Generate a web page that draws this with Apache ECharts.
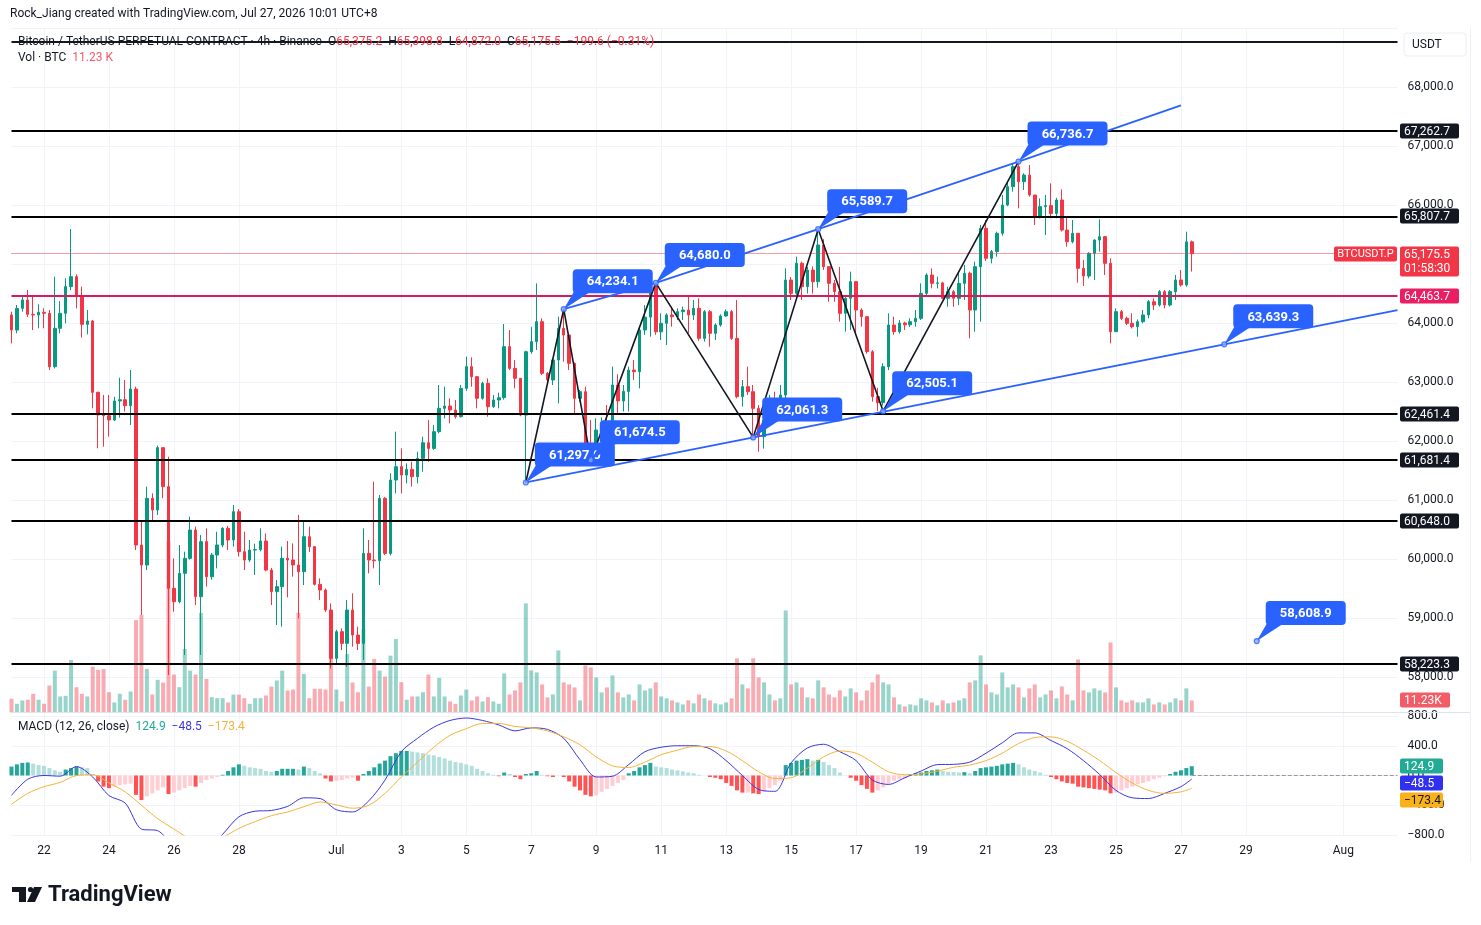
<!DOCTYPE html>
<html>
<head>
<meta charset="utf-8">
<title>BTCUSDT.P 4h</title>
<script src="https://cdn.jsdelivr.net/npm/echarts@6/dist/echarts.min.js"></script>
<style>
  html, body { margin: 0; padding: 0; background: #fff; }
  #chart { width: 1481px; height: 925px; }
</style>
</head>
<body>
<div id="chart"></div>
<script>
// ---- values (4h candles from Jun 21 00:00, UTC+8) ----
const firstOpen = 64136;
const closes = [
  63881, 64248, 64390, 64147, 64136, 64181, 64164, 63260, 63910, 64164,
  64616, 64785, 64446, 63977, 64034, 62825, 62441, 62429, 62356, 62678,
  62700, 62599, 62881, 60237, 59898, 61028, 60830, 61887, 61226, 59503,
  59277, 59757, 60011, 60491, 59361, 60294, 59700, 60068, 60237, 60520,
  60322, 60802, 60124, 59983, 60152, 60160, 60305, 59813, 59446, 59531,
  60011, 59983, 59898, 59785, 60378, 60209, 59570, 59474, 59135, 58316,
  58768, 58570, 59135, 58711, 58570, 60095, 59983, 59971, 61028, 60095,
  61339, 61565, 61423, 61519, 61395, 61706, 61971, 61875, 62158, 62553,
  62593, 62525, 62412, 62892, 63260, 63090, 62723, 62977, 62582, 62695,
  62734, 63599, 63231, 63062, 62440, 63514, 63683, 64022, 63147, 63034,
  63373, 63909, 63796, 63316, 62723, 62836, 61960, 61700, 62186, 62243,
  61870, 62949, 62680, 62840, 63203, 63175, 63881, 64100, 64650, 63850,
  63994, 64136, 64108, 64192, 64220, 64136, 64249, 63740, 64192, 63825,
  63966, 64119, 64192, 63740, 62752, 62921, 62836, 62553, 62073, 62356,
  62695, 62610, 62780, 64729, 64503, 65012, 64616, 64898, 64700, 65322,
  64955, 64673, 64531, 64164, 64418, 64701, 64220, 64107, 63514, 62752,
  62650, 63260, 63966, 63853, 64000, 63970, 64022, 64079, 64503, 64813,
  64672, 64680, 64418, 64531, 64418, 64672, 64842, 64220, 64955, 65604,
  65096, 65209, 65520, 66000, 66311, 66650, 66395, 66508, 66169, 65802,
  65972, 65990, 65858, 66085, 65576, 65378, 65520, 64927, 64796, 65181,
  65406, 65463, 65011, 63853, 64192, 64079, 63994, 63938, 64022, 64136,
  64361, 64305, 64531, 64305, 64531, 64729, 64644, 65375.2, 65175.5
];
const highs = [
  64192, 64305, 64446, 64559, 64446, 64316, 64250, 64220, 64785, 64373,
  64757, 65593, 64825, 64616, 64220, 64051, 62836, 62780, 62780, 62751,
  63073, 63034, 63203, 62921, 60633, 61226, 61113, 61921, 61887, 61734,
  60011, 60237, 60124, 60717, 60548, 60406, 60520, 60100, 60463, 60540,
  60560, 60915, 60847, 60463, 60322, 60260, 60520, 60435, 59850, 59644,
  60209, 60305, 60265, 60746, 60661, 60548, 60220, 59672, 59500, 59248,
  58800, 58824, 59305, 59418, 58853, 60519, 60322, 61310, 61084, 61050,
  61452, 62158, 61875, 61621, 61649, 61819, 62073, 62356, 62271, 62949,
  62921, 62723, 62695, 62949, 63429, 63418, 63100, 63005, 63062, 62779,
  62819, 63983, 63881, 63373, 63062, 63530, 63938, 64672, 64079, 63170,
  63401, 64107, 64234.1, 63810, 63330, 62864, 62921, 62356, 62384, 62400,
  62610, 63260, 63130, 62950, 63260, 63373, 63938, 64305, 64660, 64680,
  64164, 64164, 64277, 64249, 64277, 64475, 64390, 64418, 64220, 64220,
  63994, 64147, 64231, 64220, 64390, 63034, 63260, 62949, 62610, 62582,
  62780, 62836, 62950, 64927, 64780, 65125, 65040, 64950, 64960, 65589.7,
  65420, 64955, 64730, 64950, 64446, 64870, 64701, 64250, 64107, 63542,
  62900, 63316, 64164, 64107, 64050, 64022, 64080, 64220, 64672, 64842,
  64926, 64785, 64700, 64616, 64560, 64842, 64983, 64870, 65040, 65661,
  65746, 65237, 65548, 66170, 66395, 66706, 66736.7, 66537, 66678, 66169,
  66113, 66169, 66367, 66120, 66265, 65802, 65746, 65520, 65068, 65200,
  65418, 65757, 65474, 65096, 64248, 64220, 64107, 64164, 64060, 64220,
  64390, 64418, 64559, 64559, 64559, 64813, 64898, 65548, 65398.8
];
const lows = [
  63655, 63825, 64192, 64100, 63881, 63910, 63910, 63203, 63230, 63825,
  63994, 64559, 64248, 63751, 63808, 62553, 61876, 61904, 62073, 62340,
  62395, 62500, 62271, 60152, 59051, 59813, 60633, 60746, 61028, 58033,
  59107, 59250, 58373, 59990, 59220, 58373, 59531, 59650, 59842, 60200,
  60152, 60209, 60039, 59813, 59950, 59729, 60130, 59790, 59220, 58881,
  58853, 59350, 59700, 58994, 59559, 60120, 59550, 59305, 59100, 58147,
  58203, 58457, 58175, 58514, 58457, 58288, 59757, 59841, 59559, 60067,
  60060, 61113, 61113, 61282, 61226, 61282, 61480, 61649, 61850, 62130,
  62384, 62299, 62380, 62400, 62850, 62921, 62553, 62700, 62412, 62560,
  62553, 62700, 63200, 62892, 62420, 61297, 63480, 63542, 63118, 63005,
  62949, 62638, 63344, 63203, 62469, 62666, 61790, 61674.5, 61690, 61900,
  61700, 61850, 62440, 62500, 62500, 63034, 62893, 63797, 63769, 63800,
  63712, 63627, 63938, 64051, 64051, 63825, 64051, 63700, 63684, 63599,
  63712, 63938, 64107, 63712, 62723, 62582, 62780, 62061.3, 61819, 61870,
  62300, 62550, 62550, 62700, 64390, 64475, 64390, 64500, 64500, 64600,
  64900, 64361, 64361, 64023, 63854, 63881, 63797, 63938, 63480, 62667,
  62505.1, 62600, 63200, 63800, 63820, 63882, 63930, 63938, 64050, 64475,
  64587, 64587, 64400, 64277, 64277, 64305, 64390, 63740, 63853, 64022,
  65050, 65011, 65124, 65480, 65980, 66226, 65943, 66254, 66141, 65661,
  65774, 65492, 65774, 65774, 65550, 65293, 65350, 64683, 64627, 64757,
  64729, 65209, 64813, 63655, 63850, 64050, 63966, 63909, 63768, 63994,
  64079, 64220, 64277, 64248, 64280, 64390, 64616, 64616, 64872
];
// volume in thousands of BTC
const volumes = [
  12.8, 8.1, 11.2, 11.9, 17.5, 11.9, 8.1, 25.3, 39.3, 15.0,
  15.6, 49.3, 23.7, 17.5, 15.0, 43.1, 40.0, 40.9, 19.0, 9.4,
  17.5, 11.9, 19.7, 86.8, 91.7, 40.9, 16.8, 30.6, 28.1, 161.0,
  35.6, 23.7, 59.6, 39.3, 35.6, 93.6, 31.5, 14.3, 13.4, 13.4,
  9.4, 16.8, 16.8, 13.4, 8.1, 13.4, 13.4, 15.9, 24.3, 30.0,
  39.3, 20.6, 21.5, 93.6, 36.2, 13.4, 22.2, 22.2, 21.5, 89.2,
  21.5, 10.3, 54.9, 28.1, 19.0, 78.3, 24.3, 50.3, 39.3, 33.7,
  53.4, 69.0, 28.4, 11.9, 15.0, 15.0, 19.0, 35.6, 15.0, 32.5,
  15.0, 10.3, 8.1, 15.9, 21.5, 11.2, 15.0, 10.3, 14.3, 10.3,
  8.1, 36.7, 16.9, 20.7, 28.2, 102.5, 39.5, 37.6, 26.3, 14.1,
  16.9, 58.3, 28.2, 26.3, 23.5, 11.3, 44.2, 42.3, 32.9, 18.8,
  23.5, 34.8, 18.8, 14.1, 16.9, 11.3, 26.3, 20.7, 22.6, 28.2,
  15.0, 13.2, 11.3, 9.4, 7.5, 11.3, 8.5, 16.9, 13.2, 11.3,
  8.5, 7.5, 9.4, 13.2, 50.8, 26.3, 22.6, 50.8, 32.9, 28.2,
  16.9, 11.3, 13.2, 95.9, 26.3, 28.2, 23.5, 14.1, 13.2, 30.1,
  23.5, 16.9, 14.1, 20.7, 15.0, 22.6, 18.8, 11.3, 20.7, 28.2,
  35.7, 28.2, 26.3, 14.1, 7.5, 5.6, 7.5, 6.6, 13.2, 11.3,
  9.4, 6.6, 11.3, 8.5, 9.4, 11.3, 13.2, 28.2, 30.1, 53.6,
  26.3, 18.8, 16.9, 37.6, 23.5, 26.3, 23.5, 14.1, 22.6, 26.3,
  14.1, 16.9, 20.7, 13.2, 24.4, 16.9, 11.3, 49.8, 20.7, 18.8,
  22.6, 20.7, 18.8, 65.8, 23.5, 11.3, 9.4, 11.3, 9.4, 9.4,
  13.2, 7.5, 9.4, 7.5, 9.4, 13.2, 11.3, 22.6, 11.23
];
// MACD (12, 26, close): line and signal read every third bar, histogram every bar
const macdLine = [
  [0, -267], [3, -50], [6, 0], [9, -9], [12, 120], [15, -20], [18, -270], [21, -370],
  [24, -720], [27, -742], [30, -950], [33, -1050], [36, -1000], [39, -790], [42, -555],
  [45, -480], [48, -470], [51, -415], [54, -300], [57, -310], [60, -460], [63, -490],
  [66, -340], [69, -60], [72, 320], [75, 500], [78, 650], [81, 740], [84, 773], [87, 740],
  [90, 680], [93, 600], [96, 640], [99, 620], [102, 500], [105, 213], [108, -20], [111, -10],
  [114, 147], [117, 320], [120, 380], [123, 400], [126, 400], [129, 360], [132, 200], [135, 0],
  [138, -187], [141, -213], [144, 170], [147, 370], [150, 420], [153, 320], [156, 200],
  [159, -60], [162, -120], [165, -30], [168, 60], [171, 147], [174, 150], [177, 180],
  [180, 300], [183, 440], [186, 573], [189, 573], [192, 470], [195, 360], [198, 200],
  [201, 13], [204, -200], [207, -300], [210, -310], [213, -240], [216, -150], [218, -48.5]
];
const signalLine = [
  [0, -387], [3, -240], [6, -150], [9, -93], [12, 0], [15, 10], [18, -100], [21, -220],
  [24, -400], [27, -580], [30, -720], [33, -850], [36, -900], [39, -830], [42, -711],
  [45, -620], [48, -540], [51, -490], [54, -420], [57, -356], [60, -395], [63, -440],
  [66, -400], [69, -240], [72, -20], [75, 180], [78, 380], [81, 540], [84, 630], [87, 700],
  [90, 700], [93, 660], [96, 640], [99, 600], [102, 520], [105, 413], [108, 250], [111, 130],
  [114, 107], [117, 180], [120, 280], [123, 340], [126, 390], [129, 390], [132, 330], [135, 200],
  [138, 50], [141, -40], [144, -30], [147, 100], [150, 250], [153, 330], [156, 300],
  [159, 180], [162, 50], [165, 10], [168, 20], [171, 60], [174, 110], [177, 140],
  [180, 200], [183, 300], [186, 430], [189, 510], [192, 520], [195, 460], [198, 340],
  [201, 200], [204, 40], [207, -100], [210, -200], [213, -240], [216, -220], [218, -173.4]
];
const histogram = [
  120, 150, 170, 175, 160, 140, 130, 100, 70, 50,
  80, 100, 120, 110, 100, 20, -80, -150, -170, -150,
  -130, -120, -110, -260, -330, -280, -240, -200, -160, -250,
  -230, -200, -170, -140, -150, -100, -60, -40, -20, 10,
  60, 110, 150, 130, 110, 100, 90, 60, 50, 60,
  90, 90, 90, 80, 120, 100, 60, 30, -40, -80,
  -70, -60, -40, -30, -70, 20, 60, 110, 160, 200,
  260, 300, 330, 330, 320, 310, 300, 280, 270, 250,
  230, 200, 180, 170, 150, 130, 90, 60, 30, 10,
  -10, 40, 20, -20, -50, 20, 30, 60, 10, -10,
  -20, 0, -20, -80, -150, -200, -260, -280, -270, -220,
  -180, -140, -100, -60, 30, 60, 110, 140, 170, 120,
  110, 100, 80, 70, 55, 40, 30, 10, 0, -20,
  -30, -50, -100, -140, -200, -230, -230, -240, -250, -220,
  -170, -130, -70, 140, 170, 200, 210, 220, 200, 210,
  180, 140, 100, 40, 0, -30, -70, -130, -180, -230,
  -200, -160, -110, -70, -50, -40, 20, 30, 40, 60,
  70, 80, 60, 50, 45, 40, 45, 30, 60, 100,
  110, 120, 130, 150, 160, 170, 150, 110, 80, 60,
  40, 10, -20, -50, -80, -100, -110, -150, -160, -170,
  -180, -190, -200, -240, -230, -200, -170, -150, -120, -100,
  -80, -50, -30, -10, 20, 50, 70, 100, 124.9
];

// drawings: [bar index, price]
const levels = [67262.7, 65807.7, 62461.4, 61681.4, 60648.0, 58223.3];
const topLevel = 68763;
const pinkLevel = 64463.7;
const lastPrice = 65175.5;
const zigzag = [[95, 61297.0], [102, 64234.1], [107, 61674.5], [119, 64680.0], [137, 62061.3],
  [149, 65589.7], [161, 62505.1], [186, 66736.7]];
const upperLine = [[102, 64234.1], [119, 64680.0], [149, 65589.7], [186, 66736.7], [216, 67690]];
const lowerLine = [[95, 61297.0], [224, 63639.3], [256, 64220]];
const callouts = [[95, 61297.0], [102, 64234.1], [107, 61674.5], [119, 64680.0], [137, 62061.3],
  [149, 65589.7], [161, 62505.1], [186, 66736.7], [224, 63639.3], [230, 58608.9]];

// time axis ticks
const tickIdx = [6, 18, 30, 42, 60, 72, 84, 96, 108, 120, 132, 144, 156, 168, 180, 192, 204, 216, 228, 246];
const tickText = ['22', '24', '26', '28', 'Jul', '3', '5', '7', '9', '11', '13', '15', '17', '19', '21', '23', '25', '27', '29', 'Aug'];

// ---- build ----
const slotCount = 257;
const t0 = Date.UTC(2026, 5, 21, 0, 0);
const categories = [];
for (let i = 0; i < slotCount; i++) {
  categories.push(new Date(t0 + i * 4 * 3600 * 1000).toISOString().slice(0, 16).replace('T', ' '));
}
const tickMap = {};
tickIdx.forEach((k, j) => { tickMap[k] = tickText[j]; });
const isTick = (index) => tickMap[index] !== undefined;

const opens = [firstOpen].concat(closes.slice(0, -1));
const candleData = closes.map((c, i) => {
  const o = opens[i];
  return [o, c, Math.min(lows[i], o, c), Math.max(highs[i], o, c)];
});

const UP = '#089981', DOWN = '#f23645';
const FONT = '"Trebuchet MS", Roboto, "Noto Sans", sans-serif';
const TEXT = '#131722';
const GRID = '#f0f3fa';
const fmt = v => v.toLocaleString('en-US', { minimumFractionDigits: 1, maximumFractionDigits: 1 }).replace('-', '\u2212');

const histColors = histogram.map((v, i) => {
  const prev = i > 0 ? histogram[i - 1] : v;
  if (v >= 0) return v >= prev ? '#26a69a' : '#b2dfdb';
  return v < prev ? '#ff5252' : '#ffcdd2';
});

const L = 11.5, W = 1386;

function renderCallout(params, api) {
  const p = api.coord([api.value(0), api.value(1)]);
  const bw = 80, bh = 24;
  const bx = p[0] + 9, by = p[1] - 40;
  return {
    type: 'group',
    children: [
      { type: 'polygon', shape: { points: [[p[0], p[1]], [bx + 2, by + bh - 3], [bx + 17, by + bh - 1]] },
        style: { fill: '#2962ff' } },
      { type: 'rect', shape: { x: bx, y: by, width: bw, height: bh, r: 4 }, style: { fill: '#2962ff' } },
      { type: 'text', style: { x: bx + bw / 2, y: by + bh / 2 + 1, text: fmt(api.value(1)), fill: '#fff',
        font: 'bold 13px ' + FONT, align: 'center', verticalAlign: 'middle' } }
    ]
  };
}

const splitColors = [];
for (let k = 0; k <= 12; k++) splitColors.push(k === 0 ? 'rgba(0,0,0,0)' : GRID);

const chart = echarts.init(document.getElementById('chart'));
const option = {
  animation: false,
  backgroundColor: '#ffffff',
  textStyle: { fontFamily: FONT },
  grid: [
    { left: L, width: W, top: 28, height: 708 },
    { left: L, width: W, top: 521, height: 191.4 },
    { left: L, width: W, top: 716, height: 119 }
  ],
  xAxis: [
    { type: 'category', gridIndex: 0, data: categories, boundaryGap: false,
      axisLine: { show: false }, axisTick: { show: false }, axisLabel: { show: false },
      splitLine: { show: true, interval: isTick, lineStyle: { color: GRID } } },
    { type: 'category', gridIndex: 1, data: categories, boundaryGap: false, show: false },
    { type: 'category', gridIndex: 2, data: categories, boundaryGap: false,
      axisLine: { show: false }, axisTick: { show: false },
      axisLabel: { interval: isTick, formatter: (v, i) => tickMap[i] || '', color: TEXT,
        fontSize: 12, margin: 10, fontFamily: FONT },
      splitLine: { show: true, interval: isTick, lineStyle: { color: GRID } } }
  ],
  yAxis: [
    { type: 'value', gridIndex: 0, position: 'right', min: 57000, max: 69000, interval: 1000,
      axisLine: { show: false }, axisTick: { show: false },
      axisLabel: { color: TEXT, fontSize: 12, margin: 10, fontFamily: FONT,
        formatter: v => (v === 57000 || v === 69000) ? '' : fmt(v) },
      splitLine: { show: true, lineStyle: { color: splitColors } } },
    { type: 'value', gridIndex: 1, min: 0, max: 180, show: false },
    { type: 'value', gridIndex: 2, position: 'right', min: -800, max: 800, interval: 400,
      axisLine: { show: false }, axisTick: { show: false },
      axisLabel: { color: TEXT, fontSize: 12, margin: 10, fontFamily: FONT, formatter: v => fmt(v) },
      splitLine: { show: true, lineStyle: { color: GRID } } }
  ],
  series: [
    { name: 'Volume', type: 'bar', xAxisIndex: 1, yAxisIndex: 1, barWidth: 4, silent: true, z: 1,
      clip: false,
      data: volumes.map((v, i) => ({ value: v,
        itemStyle: { color: closes[i] >= opens[i] ? 'rgba(8,153,129,0.42)' : 'rgba(242,54,69,0.42)' } })) },
    { name: 'Levels', type: 'line', xAxisIndex: 0, yAxisIndex: 0, data: [[0, lastPrice]],
      showSymbol: false, lineStyle: { opacity: 0 }, silent: true, z: 2,
      markLine: {
        silent: true, symbol: ['none', 'none'], label: { show: false }, animation: false,
        data: levels.map(v => ({ yAxis: v, lineStyle: { color: '#000', width: 2, type: 'solid' } }))
          .concat([
            { yAxis: topLevel, lineStyle: { color: '#131722', width: 2, type: 'solid' } },
            { yAxis: pinkLevel, lineStyle: { color: '#d81b60', width: 2, type: 'solid' } },
            { yAxis: lastPrice, lineStyle: { color: DOWN, width: 1, type: 'dotted' } }
          ])
      } },
    { name: 'BTCUSDT.P', type: 'candlestick', xAxisIndex: 0, yAxisIndex: 0, data: candleData,
      barWidth: 3, clip: false, z: 4, silent: true,
      itemStyle: { color: UP, color0: DOWN, borderColor: UP, borderColor0: DOWN, borderWidth: 1 } },
    { name: 'Zigzag', type: 'line', xAxisIndex: 0, yAxisIndex: 0, data: zigzag, symbol: 'none',
      lineStyle: { color: '#131722', width: 1.6 }, z: 5, silent: true },
    { name: 'Upper', type: 'line', xAxisIndex: 0, yAxisIndex: 0, data: upperLine, symbol: 'none',
      lineStyle: { color: '#2962ff', width: 1.8 }, z: 5, silent: true },
    { name: 'Lower', type: 'line', xAxisIndex: 0, yAxisIndex: 0, data: lowerLine, symbol: 'none',
      lineStyle: { color: '#2962ff', width: 1.8 }, z: 5, silent: true },
    { name: 'Callouts', type: 'custom', xAxisIndex: 0, yAxisIndex: 0, data: callouts,
      renderItem: renderCallout, silent: true, z: 6 },
    { name: 'Pivots', type: 'scatter', xAxisIndex: 0, yAxisIndex: 0, data: callouts, symbolSize: 5,
      itemStyle: { color: '#8ea8ff', borderColor: '#2962ff', borderWidth: 1.2 }, z: 7, silent: true },
    { name: 'Histogram', type: 'bar', xAxisIndex: 2, yAxisIndex: 2, barWidth: 4, silent: true,
      data: histogram.map((v, i) => ({ value: v, itemStyle: { color: histColors[i] } })),
      markLine: { silent: true, symbol: ['none', 'none'], label: { show: false },
        lineStyle: { color: '#9598a1', type: 'dashed', width: 1 },
        data: [[{ coord: [218, 0] }, { coord: [256, 0] }]] } },
    { name: 'MACD', type: 'line', xAxisIndex: 2, yAxisIndex: 2, data: macdLine, symbol: 'none',
      smooth: 0.3, lineStyle: { color: '#3b35e0', width: 1 }, silent: true },
    { name: 'Signal', type: 'line', xAxisIndex: 2, yAxisIndex: 2, data: signalLine, symbol: 'none',
      smooth: 0.3, lineStyle: { color: '#f6b23a', width: 1 }, silent: true }
  ]
};
chart.setOption(option);

// ---- price-scale tags and legends ----
const py = p => chart.convertToPixel({ yAxisIndex: 0 }, p);
const my = v => chart.convertToPixel({ yAxisIndex: 2 }, v);
const AX = 1400;

function tag(y, text, fill, color, w) {
  return {
    type: 'group', children: [
      { type: 'rect', shape: { x: AX, y: Math.round(y) - 7.5, width: w || 59, height: 15, r: 2 }, style: { fill } },
      { type: 'text', style: { x: AX + 4, y: Math.round(y) + 0.5, text, fill: color || '#fff',
        font: '12px ' + FONT, verticalAlign: 'middle' } }
    ]
  };
}

const graphics = [];
graphics.push({ type: 'line', shape: { x1: 10, y1: 712.5, x2: 1470, y2: 712.5 }, style: { stroke: '#e0e3eb', lineWidth: 1 } });
graphics.push({ type: 'line', shape: { x1: 1470.5, y1: 28, x2: 1470.5, y2: 862 }, style: { stroke: '#eef0f4', lineWidth: 1 } });

levels.forEach(v => graphics.push(tag(py(v), fmt(v), '#131722')));
graphics.push(tag(py(pinkLevel), fmt(pinkLevel), '#e91e63'));

// last price with countdown
const yl = Math.round(py(lastPrice));
graphics.push({ type: 'rect', shape: { x: AX, y: yl - 7.5, width: 59, height: 30, r: 2 }, style: { fill: DOWN } });
graphics.push({ type: 'text', style: { x: AX + 4, y: yl + 0.5, text: fmt(lastPrice), fill: '#fff', font: '12px ' + FONT, verticalAlign: 'middle' } });
graphics.push({ type: 'text', style: { x: AX + 4, y: yl + 14.5, text: '01:58:30', fill: '#fff', font: '12px ' + FONT, verticalAlign: 'middle' } });
graphics.push({ type: 'rect', shape: { x: 1334, y: yl - 7.5, width: 63, height: 15, r: 2 }, style: { fill: DOWN } });
graphics.push({ type: 'text', style: { x: 1365.5, y: yl + 0.5, text: 'BTCUSDT.P', fill: '#fff', font: '11px ' + FONT, align: 'center', verticalAlign: 'middle' } });

// volume tag
const yv = chart.convertToPixel({ yAxisIndex: 1 }, volumes[volumes.length - 1]);
graphics.push(tag(yv, '11.23K', '#f15c66', '#fff', 50));

// MACD tags, stacked when they collide
const macdTags = [
  [histogram[histogram.length - 1], '#22ab94', '#fff'],
  [macdLine[macdLine.length - 1][1], '#3030f0', '#fff'],
  [signalLine[signalLine.length - 1][1], '#fbb11a', '#131722']
];
let lastY = -100;
macdTags.forEach(([v, fill, color]) => {
  let y = my(v);
  if (y < lastY + 17) y = lastY + 17;
  lastY = y;
  graphics.push(tag(y, fmt(v), fill, color, 43));
});

// USDT box
graphics.push({ type: 'rect', shape: { x: 1404, y: 33, width: 62, height: 23, r: 3 }, style: { fill: '#fff', stroke: '#eceef2' } });
graphics.push({ type: 'text', style: { x: 1412, y: 45, text: 'USDT', fill: TEXT, font: '12px ' + FONT, verticalAlign: 'middle' } });

// header lines
graphics.push({ type: 'text', style: { x: 10, y: 14, text: 'Rock_Jiang created with TradingView.com, Jul 27, 2026 10:01 UTC+8',
  fill: TEXT, font: '12px ' + FONT, verticalAlign: 'middle' } });
graphics.push({ type: 'text', style: { x: 18, y: 42, verticalAlign: 'middle',
  text: '{k|Bitcoin / TetherUS PERPETUAL CONTRACT \u00b7 4h \u00b7 Binance  O}{r|65,375.2}{k|  H}{r|65,398.8}{k|  L}{r|64,872.0}{k|  C}{r|65,175.5}{r|  \u2212199.6 (\u22120.31%)}',
  rich: { k: { fill: TEXT, font: '12px ' + FONT }, r: { fill: DOWN, font: '12px ' + FONT } } } });
graphics.push({ type: 'text', style: { x: 18, y: 58, verticalAlign: 'middle',
  text: '{k|Vol \u00b7 BTC  }{r|11.23 K}',
  rich: { k: { fill: TEXT, font: '12px ' + FONT }, r: { fill: '#f15c66', font: '12px ' + FONT } } } });
graphics.push({ type: 'text', style: { x: 18, y: 727, verticalAlign: 'middle',
  text: '{k|MACD (12, 26, close)  }{g|124.9}{k|  }{b|\u221248.5}{k|  }{o|\u2212173.4}',
  rich: { k: { fill: TEXT, font: '12px ' + FONT }, g: { fill: '#22ab94', font: '12px ' + FONT },
    b: { fill: '#3b35e0', font: '12px ' + FONT }, o: { fill: '#f6b23a', font: '12px ' + FONT } } } });

// TradingView mark
graphics.push({ type: 'rect', shape: { x: 12, y: 887, width: 14, height: 5 }, style: { fill: TEXT } });
graphics.push({ type: 'rect', shape: { x: 19, y: 887, width: 7, height: 15 }, style: { fill: TEXT } });
graphics.push({ type: 'circle', shape: { cx: 30.5, cy: 889.5, r: 2.6 }, style: { fill: TEXT } });
graphics.push({ type: 'polygon', shape: { points: [[34, 887], [42, 887], [35, 902], [27, 902]] }, style: { fill: TEXT } });
graphics.push({ type: 'text', style: { x: 48, y: 895, text: 'TradingView', fill: TEXT, font: 'bold 22px ' + FONT, verticalAlign: 'middle' } });

// keep the overlay above axis labels
function lift(el) {
  el.z = 100;
  if (el.children) el.children.forEach(lift);
  return el;
}
chart.setOption({ graphic: graphics.map(lift) });
</script>
</body>
</html>
